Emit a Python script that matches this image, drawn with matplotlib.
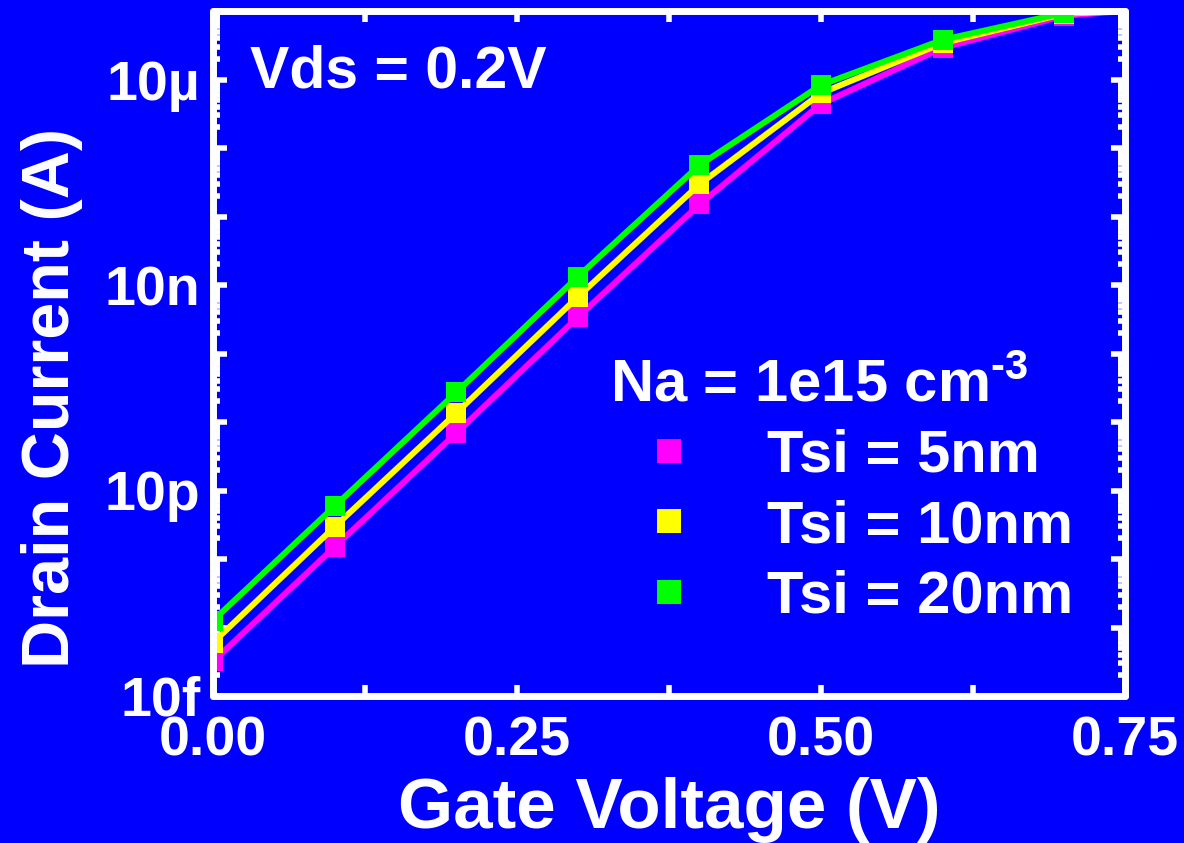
import matplotlib
matplotlib.use('Agg')
import matplotlib.pyplot as plt
from matplotlib.lines import Line2D
from matplotlib.ticker import FixedLocator, FixedFormatter, LogLocator, NullFormatter

# gate voltage (V)
vg = [0.0, 0.1, 0.2, 0.3, 0.4, 0.5, 0.6, 0.7, 0.75]

# drain current (A) for each silicon thickness
id_5nm = [3.2e-14, 1.5e-12, 6.9e-11, 3.4e-9, 1.5e-7, 4.4e-6, 2.9e-5, 8.5e-5, 1.0e-4]
id_10nm = [6.0e-14, 2.95e-12, 1.35e-10, 6.7e-9, 2.95e-7, 6.3e-6, 3.4e-5, 9.1e-5, 1.0e-4]
id_20nm = [1.26e-13, 5.9e-12, 2.7e-10, 1.32e-8, 5.6e-7, 8.3e-6, 3.8e-5, 9.4e-5, 1.0e-4]

labels = ['Tsi = 5nm', 'Tsi = 10nm', 'Tsi = 20nm']
colors = ['#ff00ff', '#ffff00', '#00ff00']

y_ticks = [1e-14, 1e-13, 1e-12, 1e-11, 1e-10, 1e-9, 1e-8, 1e-7, 1e-6, 1e-5, 1e-4]
y_ticklabels = ['10f', '', '', '10p', '', '', '10n', '', '', '10\u00b5', '']
x_ticks = [0.0, 0.25, 0.5, 0.75]
x_ticklabels = ['0.00', '0.25', '0.50', '0.75']

plt.rcParams['font.family'] = ['Liberation Sans', 'DejaVu Sans']
plt.rcParams['font.weight'] = 'bold'
plt.rcParams['mathtext.fontset'] = 'custom'
plt.rcParams['mathtext.bf'] = 'Liberation Sans:bold'
plt.rcParams['mathtext.rm'] = 'Liberation Sans:bold'
plt.rcParams['mathtext.default'] = 'bf'

bg = '#0000ff'
fig = plt.figure(figsize=(11.84, 8.43), dpi=100, facecolor=bg)
ax = fig.add_axes([213 / 1184, 1 - 696 / 843, (1125 - 213) / 1184, (696 - 11) / 843])
ax.set_facecolor(bg)

for series, c in zip([id_5nm, id_10nm, id_20nm], colors):
    ax.plot(vg, series, color=c, lw=4.3, marker='s', ms=14.4, mew=0,
            markevery=list(range(len(vg) - 1)), solid_joinstyle='miter')

ax.set_yscale('log')
ax.set_xlim(0, 0.75)
ax.set_ylim(1e-14, 1e-4)

ax.yaxis.set_major_locator(FixedLocator(y_ticks))
ax.yaxis.set_major_formatter(FixedFormatter(y_ticklabels))
ax.yaxis.set_minor_locator(LogLocator(base=10, subs=range(2, 10), numticks=50))
ax.yaxis.set_minor_formatter(NullFormatter())
ax.set_xticks(x_ticks)
ax.set_xticklabels(x_ticklabels)
ax.set_xticks([0.125, 0.375, 0.625], minor=True)

for s in ax.spines.values():
    s.set_color('white')
    s.set_linewidth(5)
    s.set_capstyle('round')

ax.tick_params(which='both', direction='in', colors='white', top=True, right=True,
               labelsize=40, width=4)
ax.tick_params(axis='y', which='major', length=10, pad=9)
ax.tick_params(axis='y', which='minor', length=5)
ax.tick_params(axis='x', which='both', length=8, pad=14)

ax.set_xlabel('Gate Voltage (V)', fontsize=51, color='white', fontweight='bold')
ax.set_ylabel('Drain Current (A)', fontsize=48, color='white', fontweight='bold')
ax.xaxis.set_label_coords(0.5, -0.118)
ax.yaxis.set_label_coords(-0.142, 0.435)

ax.text(0.041, 0.8876, 'Vds = 0.2V', transform=ax.transAxes, fontsize=42.5,
        color='white', fontweight='bold', va='baseline', ha='left')

handles = [Line2D([], [], ls='none', marker='s', ms=17, mew=0, color=c) for c in colors]
leg = ax.legend(handles, labels, title='Na = 1e15 cm$^{\\text{-3}}$', loc='upper left',
                bbox_to_anchor=((610 - 213) / 912, (696 - 358) / 685),
                frameon=False, fontsize=43, title_fontsize=43, borderpad=0,
                borderaxespad=0, handlelength=1.98, handletextpad=0.65,
                labelspacing=0.26, alignment='left')
for t in leg.get_texts():
    t.set_color('white')
leg.get_title().set_color('white')

fig.savefig('out.png', dpi=100, facecolor=bg)
